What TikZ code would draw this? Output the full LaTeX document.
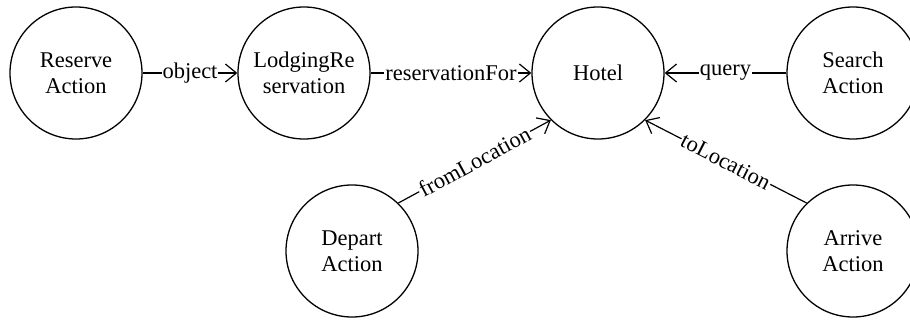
\documentclass[tikz,border=0pt]{standalone}
\usepackage{fontspec}
\setmainfont{Liberation Serif}
\usetikzlibrary{arrows.meta}
\tikzset{
  state/.style={circle,draw,line width=1.3pt,minimum size=132pt,inner sep=0pt,align=center,font=\fontsize{22.5}{26}\selectfont},
  rel/.style={-{Straight Barb[length=11pt,width=18pt,line width=1.2pt]},line width=1.2pt},
  lbl/.style={fill=white,inner sep=1pt,font=\fontsize{22.5}{26}\selectfont}
}
\begin{document}
\begin{tikzpicture}[x=1pt,y=-1pt]
\useasboundingbox (0,0) rectangle (910,320);
\node[state] (ra) at (76,73) {Reserve\\Action};
\node[state] (lr) at (304,73) {LodgingRe\\servation};
\node[state] (ho) at (598,73) {Hotel};
\node[state] (sa) at (853,73) {Search\\Action};
\node[state] (da) at (352,251) {Depart\\Action};
\node[state] (aa) at (853,251) {Arrive\\Action};
\draw[rel] (ra) -- node[lbl] {object} (lr);
\draw[rel] (lr) -- node[lbl] {reservationFor} (ho);
\draw[rel] (sa) -- node[lbl] {query} (ho);
\draw[rel] (da.46) -- node[lbl,sloped] {fromLocation} (ho.225);
\draw[rel] (aa.134) -- node[lbl,sloped] {toLocation} (ho.315);
\end{tikzpicture}
\end{document}
